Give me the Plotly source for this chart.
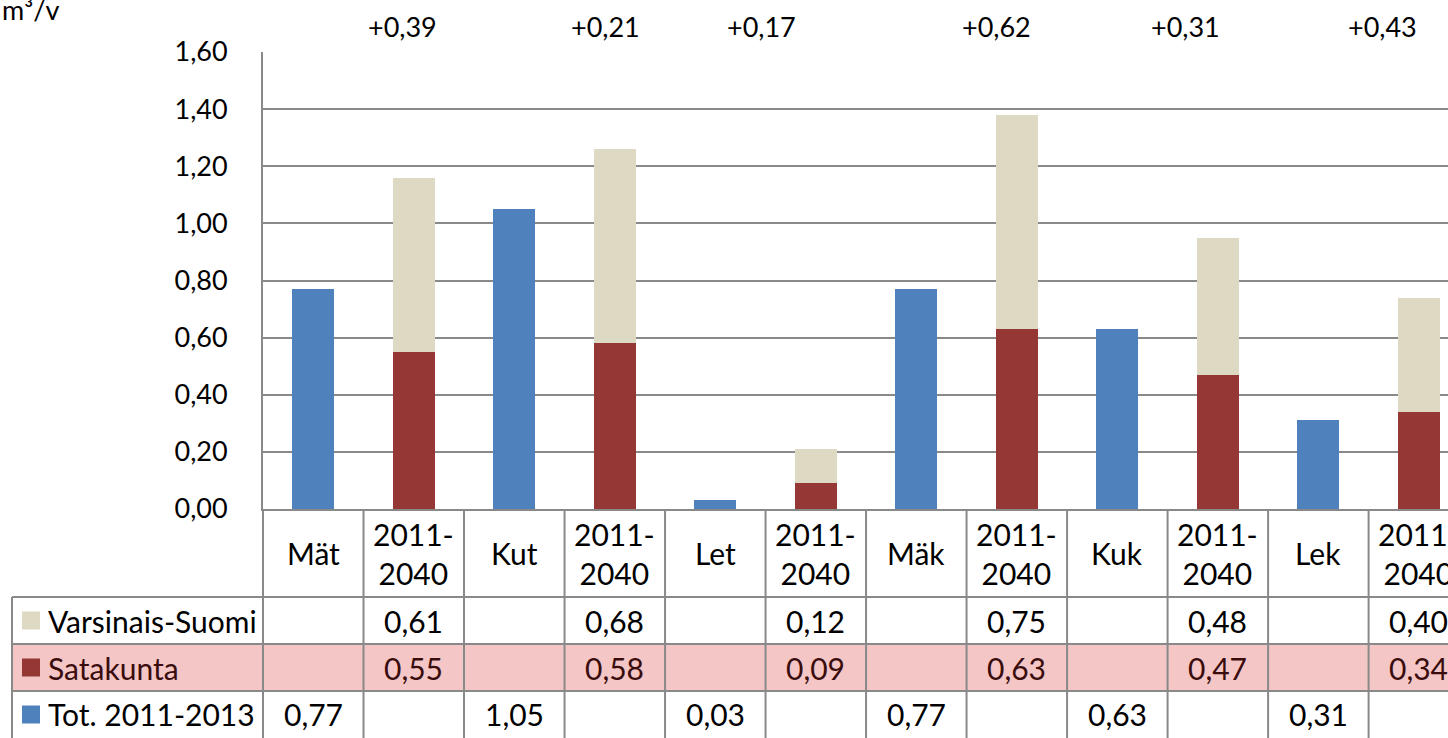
import plotly.graph_objects as go

# ---- data ----
categories = ["Mät", "2011-<br>2040", "Kut", "2011-<br>2040", "Let", "2011-<br>2040",
              "Mäk", "2011-<br>2040", "Kuk", "2011-<br>2040", "Lek", "2011-<br>2040"]
tot_2011_2013 = [0.77, None, 1.05, None, 0.03, None, 0.77, None, 0.63, None, 0.31, None]
satakunta = [None, 0.55, None, 0.58, None, 0.09, None, 0.63, None, 0.47, None, 0.34]
varsinais_suomi = [None, 0.61, None, 0.68, None, 0.12, None, 0.75, None, 0.48, None, 0.40]
diff_labels = ["", "+0,39", "", "+0,21", "", "+0,17", "", "+0,62", "", "+0,31", "", "+0,43"]
y_ticks = [0, 0.2, 0.4, 0.6, 0.8, 1.0, 1.2, 1.4, 1.6]
unit_label = "m³/v"

# layout: horizontal nudge of the change labels (in category widths)
diff_label_shift = [0, -0.11, 0, -0.09, 0, -0.54, 0, -0.20, 0, -0.32, 0, -0.36]

series = [
    ("Varsinais-Suomi", varsinais_suomi, "#DDD9C3"),
    ("Satakunta", satakunta, "#953735"),
    ("Tot. 2011-2013", tot_2011_2013, "#4F81BD"),
]

W, H = 1448, 738
ML, MT, MB = 263, 52, 229
plot_w = W - ML
plot_h = H - MT - MB
FONT = "Lato"
GRID = "#898989"
TABLE_SIZE = 30
TICK_SIZE = 27

def py(ypx):  # pixel y -> paper y
    return (H - MB - ypx) / plot_h

def px(xpx):  # pixel x -> paper x
    return (xpx - ML) / plot_w

xs = list(range(len(categories)))
fig = go.Figure()
for name, vals, col in [series[2], series[1], series[0]]:
    fig.add_trace(go.Bar(x=xs, y=vals, name=name, marker=dict(color=col, line=dict(width=0)),
                         width=0.415, showlegend=False, hoverinfo="skip"))

shapes = []
annots = []
# table geometry (pixel rows)
header_top, r1, r2, r3, r4 = 509, 597, 644, 691, 738
left_edge = 12

# pink checkered row background
shapes.append(dict(type="rect", xref="paper", yref="paper", x0=px(left_edge), x1=1.0,
                   y0=py(r3), y1=py(r2), fillcolor="rgb(244,198,198)", line=dict(width=0), layer="below"))

line = dict(color=GRID, width=2)
for yy in [r1, r2, r3]:
    shapes.append(dict(type="line", xref="paper", yref="paper", x0=px(left_edge), x1=1.0,
                       y0=py(yy), y1=py(yy), line=line))
shapes.append(dict(type="line", xref="paper", yref="paper", x0=px(left_edge), x1=px(left_edge),
                   y0=py(r1), y1=py(r4), line=line))
shapes.append(dict(type="line", xref="paper", yref="paper", x0=0, x1=0,
                   y0=py(header_top), y1=py(r4), line=line))
for i in range(len(categories) - 1):
    shapes.append(dict(type="line", xref="x", yref="paper", x0=i + 0.5, x1=i + 0.5,
                       y0=py(header_top), y1=py(r4), line=line))

tf = dict(family=FONT, size=TABLE_SIZE, color="black")
# header labels
for i, c in enumerate(categories):
    annots.append(dict(x=i, y=py((header_top + r1) / 2), xref="x", yref="paper", text=c,
                       showarrow=False, font=tf, xanchor="center", yanchor="middle"))
# rows
rows = [(series[0], (r1 + r2) / 2, "black"), (series[1], (r2 + r3) / 2, "#3a0c0c"),
        (series[2], (r3 + r4) / 2, "black")]
for (name, vals, col), yc, tcol in rows:
    shapes.append(dict(type="rect", xref="paper", yref="paper", x0=px(22), x1=px(40),
                       y0=py(yc - 9), y1=py(yc + 9), fillcolor=col, line=dict(width=0)))
    annots.append(dict(x=px(46), y=py(yc), xref="paper", yref="paper", text=name, showarrow=False,
                       font=dict(family=FONT, size=TABLE_SIZE, color=tcol), xanchor="left", yanchor="middle"))
    for i, v in enumerate(vals):
        if v is None:
            continue
        annots.append(dict(x=i, y=py(yc), xref="x", yref="paper", text=f"{v:.2f}".replace(".", ","),
                           showarrow=False, font=dict(family=FONT, size=TABLE_SIZE, color=tcol),
                           xanchor="center", yanchor="middle"))
# difference labels
for i, t in enumerate(diff_labels):
    if t:
        annots.append(dict(x=i + diff_label_shift[i], y=py(27), xref="x", yref="paper", text=t,
                           showarrow=False, font=dict(family=FONT, size=TICK_SIZE, color="black"),
                           xanchor="center", yanchor="middle"))
# unit label
annots.append(dict(x=px(0), y=py(9), xref="paper", yref="paper", text=unit_label, showarrow=False,
                   font=dict(family=FONT, size=TICK_SIZE, color="black"), xanchor="left", yanchor="middle"))

fig.update_layout(
    width=W, height=H, margin=dict(l=ML, r=0, t=MT, b=MB, pad=0),
    barmode="stack", plot_bgcolor="white", paper_bgcolor="white",
    separators=", ", shapes=shapes, annotations=annots,
    xaxis=dict(range=[-0.5, 11.29], showticklabels=False, showgrid=False, zeroline=False,
               showline=True, linecolor=GRID, linewidth=2, fixedrange=True),
    yaxis=dict(range=[0, 1.6], tickvals=y_ticks, tickformat=".2f", showgrid=True, gridcolor=GRID,
               gridwidth=2, zeroline=False, showline=True, linecolor=GRID, linewidth=2,
               ticks="", ticklabelstandoff=28, tickfont=dict(family=FONT, size=TICK_SIZE, color="black")),
)
fig.write_html("out.html", config={"displayModeBar": False},
               post_script="document.body.style.margin='0';")
